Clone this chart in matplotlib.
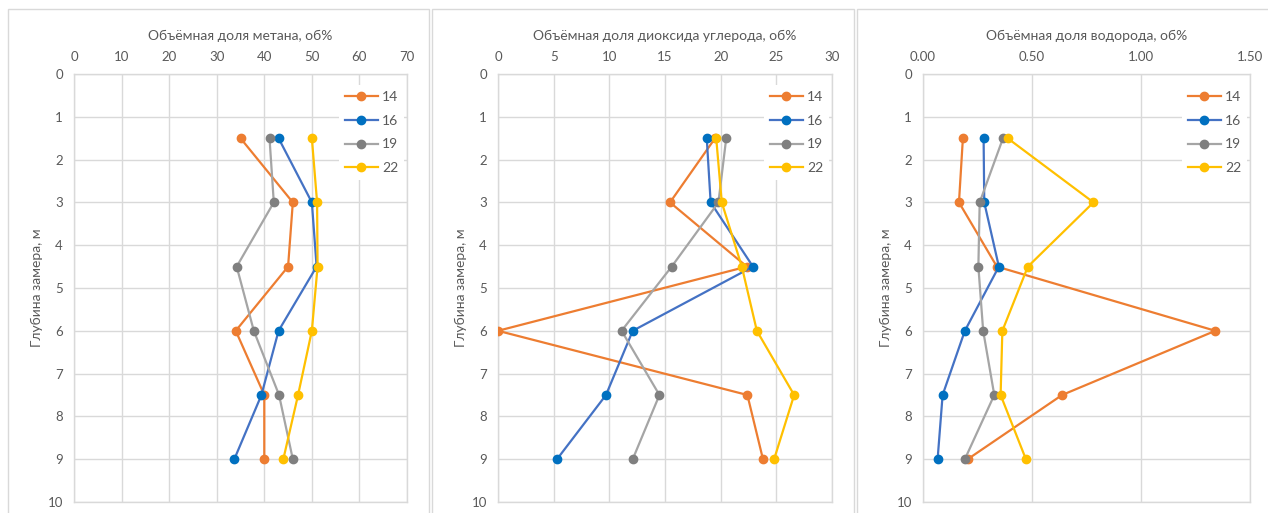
import matplotlib
matplotlib.use("Agg")
import matplotlib.pyplot as plt
from matplotlib.patches import Rectangle
from matplotlib.ticker import FormatStrFormatter

plt.rcParams["font.family"] = ["Lato", "DejaVu Sans"]
plt.rcParams["font.size"] = 9.5

depth = [1.5, 3, 4.5, 6, 7.5, 9]
labels = ["14", "16", "19", "22"]

ch4 = {
    "14": [35, 46, 45, 34, 40, 40],
    "16": [43, 50, 51, 43, 39.4, 33.7],
    "19": [41.1, 42, 34.2, 37.8, 43.1, 46],
    "22": [50, 51.1, 51.2, 50, 47.1, 44],
}
co2 = {
    "14": [19.5, 15.45, 22.35, 0, 22.4, 23.8],
    "16": [18.75, 19.1, 22.9, 12.1, 9.7, 5.3],
    "19": [20.5, 19.8, 15.6, 11.1, 14.5, 12.1],
    "22": [19.6, 20.1, 21.9, 23.25, 26.6, 24.8],
}
h2 = {
    "14": [0.183, 0.165, 0.339, 1.341, 0.638, 0.205],
    "16": [0.278, 0.281, 0.348, 0.192, 0.09, 0.067],
    "19": [0.367, 0.26, 0.254, 0.276, 0.327, 0.192],
    "22": [0.388, 0.782, 0.481, 0.364, 0.356, 0.472],
}

line_col = {"14": "#ED7D31", "16": "#4472C4", "19": "#A5A5A5", "22": "#FFC000"}
mark_col = {"14": "#ED7D31", "16": "#0070C0", "19": "#7F7F7F", "22": "#FFC000"}

titles = ["Объёмная доля метана, об%",
          "Объёмная доля диоксида углерода, об%",
          "Объёмная доля водорода, об%"]
xmax = [70, 30, 1.5]
xstep = [10, 5, 0.5]
datasets = [ch4, co2, h2]

W, H = 1268, 513
fig = plt.figure(figsize=(W / 100, H / 100), dpi=100)

# panel frames (pixels: left, right)
frames = [(8, 429), (432, 854), (857, 1275)]
for l, r in frames:
    fig.patches.append(Rectangle((l / W, -0.1), (r - l) / W, (H - 9) / H + 0.1,
                                 transform=fig.transFigure, fill=False,
                                 edgecolor="#D9D9D9", lw=1.0))

areas = [(74, 407), (498, 832), (923, 1250)]
grey = "#595959"
for k, (l, r) in enumerate(areas):
    ax = fig.add_axes([l / W, (H - 502) / H, (r - l) / W, (502 - 74) / H])
    data = datasets[k]
    for name in labels:
        ax.plot(data[name], depth, color=line_col[name], lw=1.6,
                marker="o", ms=6, mfc=mark_col[name], mec=mark_col[name],
                label=name, zorder=3)
    ax.set_ylim(10, 0)
    ax.set_xlim(0, xmax[k])
    ax.set_yticks(range(0, 11))
    ticks = [i * xstep[k] for i in range(int(round(xmax[k] / xstep[k])) + 1)]
    ax.set_xticks(ticks)
    if k == 2:
        ax.xaxis.set_major_formatter(FormatStrFormatter("%.2f"))
    ax.xaxis.tick_top()
    ax.xaxis.set_label_position("top")
    ax.set_xlabel(titles[k], color=grey, fontsize=10, labelpad=8)
    ax.set_ylabel("Глубина замера, м", color=grey, fontsize=10, labelpad=3)
    ax.tick_params(length=0, colors=grey, labelsize=9.5, pad=8)
    ax.grid(True, color="#D9D9D9", lw=1.0)
    ax.set_axisbelow(True)
    for s in ax.spines.values():
        s.set_color("#D9D9D9")
        s.set_linewidth(1.0)
    lgd = ax.legend(loc="upper right", bbox_to_anchor=(1.012, 0.99), frameon=True,
                    edgecolor="none", facecolor="white", framealpha=1,
                    fancybox=False, fontsize=10, handlelength=2.4,
                    labelspacing=0.85, handletextpad=0.3, borderpad=0.4)
    for t in lgd.get_texts():
        t.set_color(grey)

fig.savefig("out.png", dpi=100)
